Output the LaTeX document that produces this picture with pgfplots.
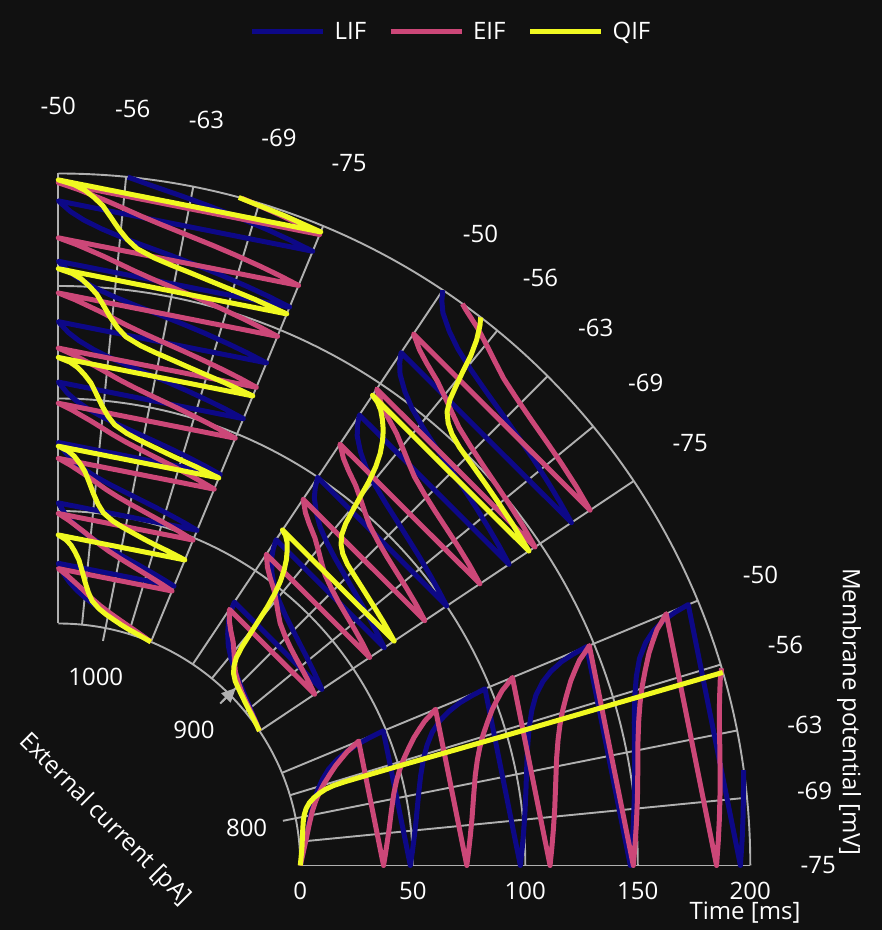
\documentclass[border=0pt]{standalone}
\usepackage{pgfplots}
\pgfplotsset{compat=1.18}
\usepackage{fontspec}
\setmainfont{Open Sans}
\usetikzlibrary{arrows.meta}
\definecolor{bg}{HTML}{111111}
\definecolor{gridc}{HTML}{B0B0B0}
\definecolor{lifc}{HTML}{0D0887}
\definecolor{eifc}{HTML}{CC4778}
\definecolor{qifc}{HTML}{F0F921}
\pgfplotsset{table/sec/.style={
  x expr={(242+2.25*\thisrow{t})*cos(#1+0.9*(\thisrow{v}+75))},
  y expr={(242+2.25*\thisrow{t})*sin(#1+0.9*(\thisrow{v}+75))}}}
\tikzset{
  lif/.style={draw=lifc, line width=5pt, line join=round},
  eif/.style={draw=eifc, line width=5pt, line join=round},
  qif/.style={draw=qifc, line width=5pt, line join=round}}
\begin{document}
\begin{tikzpicture}[font=\fontsize{24}{29}\selectfont]
\fill[bg] (-58.3pt,-64.5pt) rectangle (823.7pt,865.5pt);
\foreach \r in {242,354.5,467,579.5,692}
  \draw[gridc, line width=1.9pt] (0:\r pt) arc[start angle=0,end angle=90,radius=\r pt];
\foreach \a in {0,5.625,16.875,22.5,33.75,39.375,50.625,56.25,67.5,73.125,84.375,90}
  \draw[gridc, line width=1.9pt] (\a:242pt) -- (\a:692pt);
\foreach \a in {11.25,45,78.75}
  \draw[gridc, line width=1.9pt] (\a:229pt) -- (\a:692pt);
\draw[gridc, line width=1.9pt, -{Triangle[length=14pt,width=13pt]}] (45:232pt) -- (45:251pt);
\foreach \a/\l in {0/-75,5.625/-69,16.875/-56,22.5/-50,
  33.75/-75,39.375/-69,45/-63,50.625/-56,56.25/-50,
  67.5/-75,73.125/-69,78.75/-63,84.375/-56,90/-50}
  \node[text=white] at (\a:760pt) {\l};
\node[text=white] at (746.7pt,140.5pt) {-63};
\foreach \x/\l in {242/0,354.5/50,467/100,579.5/150,692/200}
  \node[text=white] at (\x pt,-25.5pt) {\l};
\node[text=white] at (11.25:192pt) {800};
\node[text=white] at (45:192pt) {900};
\node[text=white] at (78.75:192pt) {1000};
\node[text=white] at (686.7pt,-47.5pt) {Time [ms]};
\node[text=white, rotate=-90] at (790.7pt,153.5pt) {Membrane potential [mV]};
\node[text=white, rotate=-45] at (46.7pt,45.5pt) {External current [pA]};
\begin{axis}[at={(0,0)}, anchor=origin, scale only axis, width=882pt, height=930pt,
  xmin=-58.3, xmax=823.7, ymin=-64.5, ymax=865.5, hide axis, clip=false,
  legend style={at={(axis description cs:0.5113,0.9656)}, anchor=center, draw=none, fill=none,
    text=white, font=\fontsize{24}{29}\selectfont, legend columns=3,
    /tikz/every odd column/.append style={column sep=7pt},
    /tikz/every even column/.append style={column sep=20pt}},
  legend image code/.code={\draw[#1] (0pt,0pt) -- (71pt,0pt);}]
% ---------- 800 pA ----------
\addplot[lif] table[sec=0] {
t v
0 -75
1 -72.6
2 -70.4
3.5 -67.6
5 -65.1
7 -62.3
9.5 -59.5
12.5 -57.0
16 -54.9
20 -53.2
25 -51.9
30 -51.1
36 -50.5
42 -50.2
48.8 -50.0
48.9 -75
49.9 -72.6
50.9 -70.4
52.4 -67.6
53.9 -65.1
55.9 -62.3
58.4 -59.5
61.4 -57.0
64.9 -54.9
68.9 -53.2
73.9 -51.9
78.9 -51.1
84.9 -50.5
90.9 -50.2
97.7 -50.0
97.8 -75
98.8 -72.6
99.8 -70.4
101.3 -67.6
102.8 -65.1
104.8 -62.3
107.3 -59.5
110.3 -57.0
113.8 -54.9
117.8 -53.2
122.8 -51.9
127.8 -51.1
133.8 -50.5
139.8 -50.2
146.6 -50.0
146.7 -75
147.7 -72.6
148.7 -70.4
150.2 -67.6
151.7 -65.1
153.7 -62.3
156.2 -59.5
159.2 -57.0
162.7 -54.9
166.7 -53.2
171.7 -51.9
176.7 -51.1
182.7 -50.5
188.7 -50.2
195.5 -50.0
195.6 -75
196.6 -72.6
197.6 -70.4
199.1 -67.6
200 -66.2
};
\addlegendentry{LIF}
\addplot[eif] table[sec=0] {
t v
0 -75
1 -72.6
2 -70.5
3.5 -67.8
5.5 -64.6
8 -61.5
10.5 -59.3
13 -57.6
16 -56.0
19.5 -54.5
23.5 -53.0
27 -52.0
30.5 -51.1
33.5 -50.6
36.9 -50
37 -75
38 -72.6
39 -70.5
40.5 -67.8
42.5 -64.6
45 -61.5
47.5 -59.3
50 -57.6
53 -56.0
56.5 -54.5
60.5 -53.0
64 -52.0
67.5 -51.1
70.5 -50.6
73.9 -50
74 -75
75 -72.6
76 -70.5
77.5 -67.8
79.5 -64.6
82 -61.5
84.5 -59.3
87 -57.6
90 -56.0
93.5 -54.5
97.5 -53.0
101 -52.0
104.5 -51.1
107.5 -50.6
110.9 -50
111 -75
112 -72.6
113 -70.5
114.5 -67.8
116.5 -64.6
119 -61.5
121.5 -59.3
124 -57.6
127 -56.0
130.5 -54.5
134.5 -53.0
138 -52.0
141.5 -51.1
144.5 -50.6
147.9 -50
148 -75
149 -72.6
150 -70.5
151.5 -67.8
153.5 -64.6
156 -61.5
158.5 -59.3
161 -57.6
164 -56.0
167.5 -54.5
171.5 -53.0
175 -52.0
178.5 -51.1
181.5 -50.6
184.9 -50
185 -75
186 -72.6
187 -70.5
188.5 -67.8
190.5 -64.6
193 -61.5
195.5 -59.3
198 -57.6
200 -56.6
};
\addlegendentry{EIF}
\addplot[qif] table[sec=0] {
t v
0 -75
1 -70.5
2 -66.5
3 -63.8
4 -62.1
5.5 -60.6
7.5 -59.4
10 -58.5
13 -57.8
16 -57.3
20 -57.0
25 -56.9
50 -56.9
100 -57.0
150 -57.0
200 -57.0
};
\addlegendentry{QIF}
% ---------- 900 pA ----------
\addplot[lif, forget plot] table[sec=33.75] {
t v
0 -75
1 -72.6
2 -70.4
3.5 -67.5
5 -64.9
7 -62.1
9.5 -59.2
12.5 -56.6
16 -54.4
20 -52.7
25 -51.2
29 -50.5
33.25 -50
33.35 -75
34.35 -72.6
35.35 -70.4
36.85 -67.5
38.35 -64.9
40.35 -62.1
42.85 -59.2
45.85 -56.6
49.35 -54.4
53.35 -52.7
58.35 -51.2
62.35 -50.5
66.6 -50
66.7 -75
67.7 -72.6
68.7 -70.4
70.2 -67.5
71.7 -64.9
73.7 -62.1
76.2 -59.2
79.2 -56.6
82.7 -54.4
86.7 -52.7
91.7 -51.2
95.7 -50.5
99.95 -50
100.05 -75
101.05 -72.6
102.05 -70.4
103.55 -67.5
105.05 -64.9
107.05 -62.1
109.55 -59.2
112.55 -56.6
116.05 -54.4
120.05 -52.7
125.05 -51.2
129.05 -50.5
133.3 -50
133.4 -75
134.4 -72.6
135.4 -70.4
136.9 -67.5
138.4 -64.9
140.4 -62.1
142.9 -59.2
145.9 -56.6
149.4 -54.4
153.4 -52.7
158.4 -51.2
162.4 -50.5
166.65 -50
166.75 -75
167.75 -72.6
168.75 -70.4
170.25 -67.5
171.75 -64.9
173.75 -62.1
176.25 -59.2
179.25 -56.6
182.75 -54.4
186.75 -52.7
191.75 -51.2
195.75 -50.5
200 -50.0
};
\addplot[eif, forget plot] table[sec=33.75] {
t v
0 -75
1 -72.3
2 -69.6
3 -67.2
4.5 -64.5
6.5 -62
9 -59.7
12 -58
15 -56.5
18.5 -54.8
22 -52.8
25 -51.4
27.5 -50.6
29.35 -50
29.45 -75
30.45 -72.3
31.45 -69.6
32.45 -67.2
33.95 -64.5
35.95 -62
38.45 -59.7
41.45 -58
44.45 -56.5
47.95 -54.8
51.45 -52.8
54.45 -51.4
56.95 -50.6
58.8 -50
58.9 -75
59.9 -72.3
60.9 -69.6
61.9 -67.2
63.4 -64.5
65.4 -62
67.9 -59.7
70.9 -58
73.9 -56.5
77.4 -54.8
80.9 -52.8
83.9 -51.4
86.4 -50.6
88.25 -50
88.35 -75
89.35 -72.3
90.35 -69.6
91.35 -67.2
92.85 -64.5
94.85 -62
97.35 -59.7
100.35 -58
103.35 -56.5
106.85 -54.8
110.35 -52.8
113.35 -51.4
115.85 -50.6
117.7 -50
117.8 -75
118.8 -72.3
119.8 -69.6
120.8 -67.2
122.3 -64.5
124.3 -62
126.8 -59.7
129.8 -58
132.8 -56.5
136.3 -54.8
139.8 -52.8
142.8 -51.4
145.3 -50.6
147.15 -50
147.25 -75
148.25 -72.3
149.25 -69.6
150.25 -67.2
151.75 -64.5
153.75 -62
156.25 -59.7
159.25 -58
162.25 -56.5
165.75 -54.8
169.25 -52.8
172.25 -51.4
174.75 -50.6
176.6 -50
176.7 -75
177.7 -72.3
178.7 -69.6
179.7 -67.2
181.2 -64.5
183.2 -62
185.7 -59.7
188.7 -58
191.7 -56.5
195.2 -54.8
198.7 -52.8
200 -52.2
};
\addplot[qif, forget plot] table[sec=33.75] {
t v
0 -75
1 -71.5
2 -68.5
3 -66.2
4.5 -63.4
6 -61.2
8 -59.6
10.5 -58.5
14 -57.6
19 -57.0
25 -56.6
32 -56.2
40 -55.8
47 -55.3
53 -54.7
58 -54.0
62 -53.3
65.5 -52.5
68.5 -51.7
70.5 -50.9
71.8 -50
72 -75
73 -71.5
74 -68.5
75 -66.2
76.5 -63.4
78 -61.2
80 -59.6
82.5 -58.5
86 -57.6
91 -57.0
97 -56.6
104 -56.2
112 -55.8
119 -55.3
125 -54.7
130 -54.0
134 -53.3
137.5 -52.5
140.5 -51.7
142.5 -50.9
143.8 -50
144 -75
145 -71.5
146 -68.5
147 -66.2
148.5 -63.4
150 -61.2
152 -59.6
154.5 -58.5
158 -57.6
163 -57.0
169 -56.6
176 -56.2
184 -55.8
191 -55.3
197 -54.7
200 -54.3
};
% ---------- 1000 pA ----------
\addplot[lif, forget plot] table[sec=67.5] {
t v
0 -75
1 -72.5
2 -70.2
3.5 -67.2
5 -64.6
7 -61.7
9.5 -58.7
12 -56.4
15 -54.3
18.5 -52.5
22 -51.2
26.75 -50
26.85 -75
27.85 -72.5
28.85 -70.2
30.35 -67.2
31.85 -64.6
33.85 -61.7
36.35 -58.7
38.85 -56.4
41.85 -54.3
45.35 -52.5
48.85 -51.2
53.6 -50
53.7 -75
54.7 -72.5
55.7 -70.2
57.2 -67.2
58.7 -64.6
60.7 -61.7
63.2 -58.7
65.7 -56.4
68.7 -54.3
72.2 -52.5
75.7 -51.2
80.45 -50
80.55 -75
81.55 -72.5
82.55 -70.2
84.05 -67.2
85.55 -64.6
87.55 -61.7
90.05 -58.7
92.55 -56.4
95.55 -54.3
99.05 -52.5
102.55 -51.2
107.3 -50
107.4 -75
108.4 -72.5
109.4 -70.2
110.9 -67.2
112.4 -64.6
114.4 -61.7
116.9 -58.7
119.4 -56.4
122.4 -54.3
125.9 -52.5
129.4 -51.2
134.15 -50
134.25 -75
135.25 -72.5
136.25 -70.2
137.75 -67.2
139.25 -64.6
141.25 -61.7
143.75 -58.7
146.25 -56.4
149.25 -54.3
152.75 -52.5
156.25 -51.2
161 -50
161.1 -75
162.1 -72.5
163.1 -70.2
164.6 -67.2
166.1 -64.6
168.1 -61.7
170.6 -58.7
173.1 -56.4
176.1 -54.3
179.6 -52.5
183.1 -51.2
187.85 -50
187.95 -75
188.95 -72.5
189.95 -70.2
191.45 -67.2
192.95 -64.6
194.95 -61.7
197.45 -58.7
200 -56.4
};
\addplot[eif, forget plot] table[sec=67.5] {
t v
0 -75
1 -72.8
2 -70.7
3.5 -67.9
5 -65.5
7 -62.8
9.5 -60.1
12 -58.0
14.5 -56.3
17 -54.7
19.5 -53.1
21.5 -51.9
23 -50.9
24.4 -50
24.5 -75
25.5 -72.8
26.5 -70.7
28 -67.9
29.5 -65.5
31.5 -62.8
34 -60.1
36.5 -58.0
39 -56.3
41.5 -54.7
44 -53.1
46 -51.9
47.5 -50.9
48.9 -50
49 -75
50 -72.8
51 -70.7
52.5 -67.9
54 -65.5
56 -62.8
58.5 -60.1
61 -58.0
63.5 -56.3
66 -54.7
68.5 -53.1
70.5 -51.9
72 -50.9
73.4 -50
73.5 -75
74.5 -72.8
75.5 -70.7
77 -67.9
78.5 -65.5
80.5 -62.8
83 -60.1
85.5 -58.0
88 -56.3
90.5 -54.7
93 -53.1
95 -51.9
96.5 -50.9
97.9 -50
98 -75
99 -72.8
100 -70.7
101.5 -67.9
103 -65.5
105 -62.8
107.5 -60.1
110 -58.0
112.5 -56.3
115 -54.7
117.5 -53.1
119.5 -51.9
121 -50.9
122.4 -50
122.5 -75
123.5 -72.8
124.5 -70.7
126 -67.9
127.5 -65.5
129.5 -62.8
132 -60.1
134.5 -58.0
137 -56.3
139.5 -54.7
142 -53.1
144 -51.9
145.5 -50.9
146.9 -50
147 -75
148 -72.8
149 -70.7
150.5 -67.9
152 -65.5
154 -62.8
156.5 -60.1
159 -58.0
161.5 -56.3
164 -54.7
166.5 -53.1
168.5 -51.9
170 -50.9
171.4 -50
171.5 -75
172.5 -72.8
173.5 -70.7
175 -67.9
176.5 -65.5
178.5 -62.8
181 -60.1
183.5 -58.0
186 -56.3
188.5 -54.7
191 -53.1
193 -51.9
194.5 -50.9
195.9 -50
196 -75
197 -72.8
198 -70.7
199.5 -67.9
200 -67.1
};
\addplot[qif, forget plot] table[sec=67.5] {
t v
0 -75
1 -71.3
2 -68.3
3 -66.3
4.5 -64
6 -62
8 -60
11 -58.1
14.5 -57
19 -56
24 -55.1
28.5 -54.3
32 -53.4
35 -52.5
37.3 -51.5
39.35 -50
39.45 -75
40.45 -71.3
41.45 -68.3
42.45 -66.3
43.95 -64
45.45 -62
47.45 -60
50.45 -58.1
53.95 -57
58.45 -56
63.45 -55.1
67.95 -54.3
71.45 -53.4
74.45 -52.5
76.75 -51.5
78.8 -50
78.9 -75
79.9 -71.3
80.9 -68.3
81.9 -66.3
83.4 -64
84.9 -62
86.9 -60
89.9 -58.1
93.4 -57
97.9 -56
102.9 -55.1
107.4 -54.3
110.9 -53.4
113.9 -52.5
116.2 -51.5
118.25 -50
118.35 -75
119.35 -71.3
120.35 -68.3
121.35 -66.3
122.85 -64
124.35 -62
126.35 -60
129.35 -58.1
132.85 -57
137.35 -56
142.35 -55.1
146.85 -54.3
150.35 -53.4
153.35 -52.5
155.65 -51.5
157.7 -50
157.8 -75
158.8 -71.3
159.8 -68.3
160.8 -66.3
162.3 -64
163.8 -62
165.8 -60
168.8 -58.1
172.3 -57
176.8 -56
181.8 -55.1
186.3 -54.3
189.8 -53.4
192.8 -52.5
195.1 -51.5
197.15 -50
197.25 -75
198.25 -71.3
199.25 -68.3
200 -66.8
};
\end{axis}
\pgfresetboundingbox
\path[use as bounding box] (-58.3pt,-64.5pt) rectangle (823.7pt,865.5pt);
\end{tikzpicture}
\end{document}
